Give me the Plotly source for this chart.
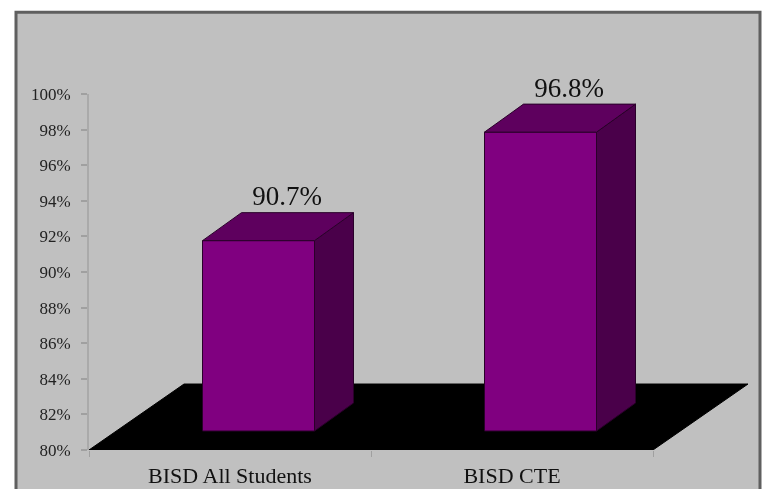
import plotly.graph_objects as go

categories = ["BISD All Students", "BISD CTE"]
values = [90.7, 96.8]
value_labels = ["90.7%", "96.8%"]
y_ticks = [80, 82, 84, 86, 88, 90, 92, 94, 96, 98, 100]
y_tick_labels = ["80%", "82%", "84%", "86%", "88%", "90%", "92%", "94%", "96%", "98%", "100%"]

W, H = 763, 489
L, R = 89, 15
BOTTOM_PX = 450           # y pixel of 80%
B = H - BOTTOM_PX
PX_X = 282.0      # pixels per category
PX_Y = 17.8       # pixels per percent
AXIS_MAX = 104    # second pair's range, leaves room for the value labels
T = BOTTOM_PX - (AXIS_MAX - 80) * PX_Y
PLOT_H = H - T - B
PLOT_W = W - L - R

FRONT = "#800080"
TOP = "#5E005E"
SIDE = "#4A004A"
EDGE = "#2A002A"
FONT = "Liberation Serif"

dx = lambda px: px / PX_X
dy = lambda px: px / PX_Y

front_dx, front_dy = dx(28.5), dy(19)
back_dx, back_dy = dx(67.5), dy(47)
floor_dx, floor_dy = dx(95), dy(66)
bar_w = dx(112)
n = len(categories)
centers = [i + 0.5 for i in range(n)]

fig = go.Figure()

# floor, on the base axes so that everything on the second pair sits above it
fig.add_trace(go.Scatter(
    x=[0, n, n + floor_dx, floor_dx, 0],
    y=[80, 80, 80 + floor_dy, 80 + floor_dy, 80],
    fill="toself", fillcolor="#000000", mode="lines",
    line=dict(color="#000000", width=1), hoverinfo="skip", showlegend=False))

# front faces
fig.add_trace(go.Bar(
    x=[c + front_dx for c in centers],
    y=[v - 80 for v in values],
    base=80 + front_dy,
    width=bar_w,
    xaxis="x2", yaxis="y2",
    marker=dict(color=FRONT, line=dict(color=EDGE, width=1)),
    hoverinfo="skip", showlegend=False))

# side and top faces
for c, v in zip(centers, values):
    xl = c + front_dx - bar_w / 2
    xr = c + front_dx + bar_w / 2
    step_x = back_dx - front_dx
    base = 80 + front_dy
    top = v + front_dy
    step_y = back_dy - front_dy
    fig.add_trace(go.Scatter(
        x=[xr, xr + step_x, xr + step_x, xr, xr],
        y=[base, base + step_y, top + step_y, top, base],
        xaxis="x2", yaxis="y2",
        fill="toself", fillcolor=SIDE, mode="lines",
        line=dict(color=EDGE, width=1), hoverinfo="skip", showlegend=False))
    fig.add_trace(go.Scatter(
        x=[xl, xr, xr + step_x, xl + step_x, xl],
        y=[top, top, top + step_y, top + step_y, top],
        xaxis="x2", yaxis="y2",
        fill="toself", fillcolor=TOP, mode="lines",
        line=dict(color=EDGE, width=1), hoverinfo="skip", showlegend=False))

# value labels
fig.add_trace(go.Scatter(
    x=[c + dx(57) for c in centers],
    y=[v + dy(61) for v in values],
    xaxis="x2", yaxis="y2",
    mode="text", text=value_labels, textposition="middle center",
    textfont=dict(family=FONT, size=27, color="#111111"),
    cliponaxis=False, hoverinfo="skip", showlegend=False))

x_range = [0, PLOT_W / PX_X]
fig.update_layout(
    width=W, height=H,
    margin=dict(l=L, r=R, t=T, b=B, pad=0, autoexpand=False),
    paper_bgcolor="#FFFFFF",
    plot_bgcolor="rgba(0,0,0,0)",
    showlegend=False,
    xaxis=dict(
        range=x_range, automargin=False,
        tickvals=centers, ticktext=categories,
        ticks="", ticklabelstandoff=10,
        tickfont=dict(family=FONT, size=22, color="#111111"),
        showgrid=False, zeroline=False, showline=False,
        minor=dict(tickmode="array", tickvals=[0, 1, 2], ticks="outside",
                   ticklen=6, tickcolor="#A0A0A0", tickwidth=1, showgrid=False),
    ),
    yaxis=dict(
        domain=[0, 20 * PX_Y / PLOT_H],
        range=[80, 100], automargin=False,
        tickvals=y_ticks, ticktext=y_tick_labels,
        ticks="outside", ticklen=6, tickcolor="#A0A0A0", tickwidth=2,
        ticklabelstandoff=7,
        tickfont=dict(family=FONT, size=17, color="#222222"),
        showgrid=False, zeroline=False,
        showline=True, linecolor="#AAAAAA", linewidth=2,
    ),
    xaxis2=dict(range=x_range, anchor="y2", visible=False, automargin=False),
    yaxis2=dict(domain=[0, 1], range=[80, AXIS_MAX], anchor="x2", visible=False, automargin=False),
    shapes=[dict(
        type="rect", layer="below", xref="paper", yref="paper",
        x0=(16 - L) / PLOT_W, x1=(760 - L) / PLOT_W,
        y0=(BOTTOM_PX - 520) / PLOT_H, y1=(BOTTOM_PX - 12) / PLOT_H,
        fillcolor="#C0C0C0", line=dict(color="#5F5F5F", width=3),
    )],
)

page_script = """
document.documentElement.style.margin = '0';
document.body.style.margin = '0';
document.body.style.overflow = 'hidden';
document.querySelector('.plotly-graph-div').style.filter = 'blur(0.7px)';
"""

fig.write_html("out.html", post_script=page_script, config=dict(displayModeBar=False))
